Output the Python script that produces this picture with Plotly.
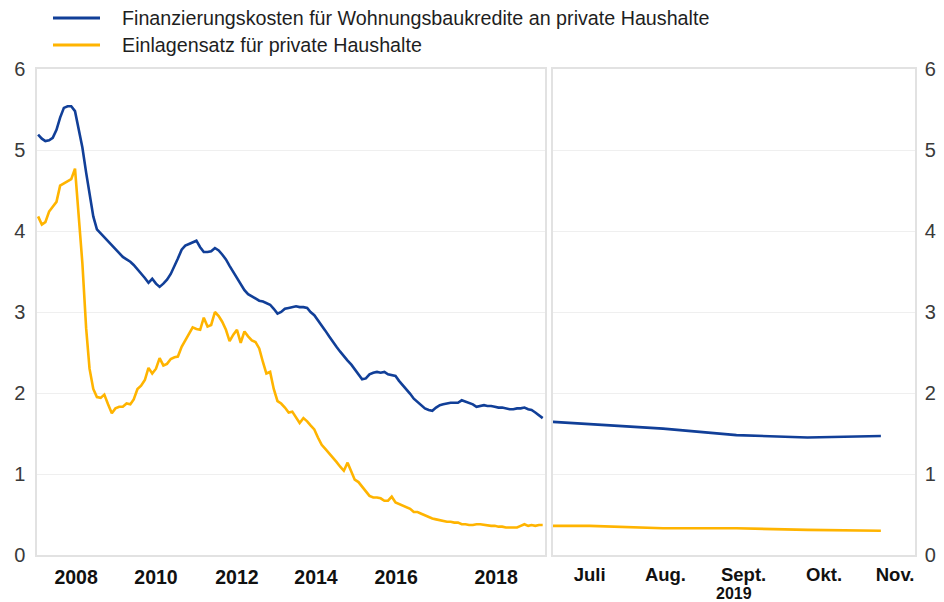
import plotly.graph_objects as go
import pandas as pd

# ---------------- data ----------------
# Left panel: monthly, Jan 2008 – Jun 2019
left_dates = pd.date_range("2008-01-01", periods=138, freq="MS")

cost_of_borrowing = [
    5.19, 5.14, 5.11, 5.12, 5.15, 5.25, 5.40, 5.52, 5.54, 5.54, 5.48, 5.26,   # 2008
    5.03, 4.72, 4.44, 4.18, 4.02, 3.97, 3.93, 3.88, 3.83, 3.77, 3.72, 3.68,   # 2009
    3.65, 3.62, 3.58, 3.53, 3.47, 3.42, 3.36, 3.41, 3.35, 3.31, 3.35, 3.40,   # 2010
    3.47, 3.56, 3.66, 3.77, 3.82, 3.84, 3.86, 3.88, 3.80, 3.74, 3.74, 3.75,   # 2011
    3.79, 3.76, 3.71, 3.65, 3.57, 3.49, 3.42, 3.35, 3.27, 3.22, 3.19, 3.16,   # 2012
    3.14, 3.13, 3.11, 3.09, 3.04, 2.98, 3.00, 3.04, 3.05, 3.06, 3.07, 3.06,   # 2013
    3.06, 3.05, 3.00, 2.96, 2.90, 2.84, 2.77, 2.70, 2.63, 2.57, 2.51, 2.45,   # 2014
    2.40, 2.35, 2.29, 2.22, 2.17, 2.18, 2.23, 2.25, 2.26, 2.25, 2.26, 2.23,   # 2015
    2.22, 2.21, 2.15, 2.10, 2.04, 1.99, 1.93, 1.89, 1.85, 1.81, 1.79, 1.78,   # 2016
    1.82, 1.85, 1.86, 1.87, 1.88, 1.88, 1.88, 1.91, 1.89, 1.88, 1.86, 1.83,   # 2017
    1.84, 1.85, 1.84, 1.84, 1.83, 1.82, 1.82, 1.81, 1.80, 1.80, 1.81, 1.81,   # 2018
    1.82, 1.80, 1.79, 1.76, 1.72, 1.69,                                       # 2019
]

deposit_rate = [
    4.18, 4.08, 4.11, 4.24, 4.30, 4.36, 4.56, 4.59, 4.62, 4.64, 4.77, 4.20,   # 2008
    3.60, 2.80, 2.30, 2.05, 1.95, 1.94, 1.98, 1.86, 1.75, 1.81, 1.83, 1.83,   # 2009
    1.87, 1.86, 1.92, 2.05, 2.09, 2.16, 2.31, 2.24, 2.30, 2.43, 2.34, 2.36,   # 2010
    2.42, 2.44, 2.45, 2.57, 2.65, 2.73, 2.81, 2.79, 2.78, 2.93, 2.82, 2.84,   # 2011
    3.00, 2.95, 2.88, 2.78, 2.64, 2.72, 2.78, 2.62, 2.76, 2.70, 2.65, 2.63,   # 2012
    2.55, 2.38, 2.24, 2.26, 2.05, 1.90, 1.87, 1.82, 1.76, 1.77, 1.70, 1.63,   # 2013
    1.69, 1.65, 1.60, 1.55, 1.45, 1.36, 1.31, 1.26, 1.21, 1.15, 1.09, 1.04,   # 2014
    1.14, 1.02, 0.93, 0.90, 0.84, 0.79, 0.73, 0.71, 0.71, 0.70, 0.67, 0.67,   # 2015
    0.72, 0.65, 0.63, 0.61, 0.59, 0.57, 0.53, 0.53, 0.51, 0.49, 0.46, 0.45,   # 2016
    0.44, 0.43, 0.42, 0.41, 0.41, 0.40, 0.40, 0.38, 0.38, 0.37, 0.37, 0.38,   # 2017
    0.38, 0.37, 0.37, 0.36, 0.36, 0.35, 0.35, 0.34, 0.34, 0.34, 0.34, 0.36,   # 2018
    0.38, 0.36, 0.37, 0.36, 0.37, 0.37,                                       # 2019
]

# Right panel: monthly, Jun – Nov 2019
right_dates = ["2019-06-01", "2019-07-01", "2019-08-01", "2019-09-01", "2019-10-01", "2019-11-01"]
cost_of_borrowing_recent = [1.67, 1.62, 1.56, 1.48, 1.45, 1.47]
deposit_rate_recent = [0.36, 0.36, 0.33, 0.33, 0.31, 0.30]

# Axis labels
year_label_pos = ["2008-11-10", "2010-09-01", "2012-07-01", "2014-04-15", "2016-02-06", "2018-05-12"]
year_labels = ["2008", "2010", "2012", "2014", "2016", "2018"]
year_tick_pos = [f"{y}-07-01" for y in range(2008, 2019)]

month_label_pos = ["2019-07-01", "2019-08-02", "2019-09-04", "2019-10-08", "2019-11-07"]
month_labels = ["Juli", "Aug.", "Sept.", "Okt.", "Nov."]
month_tick_pos = ["2019-07-01", "2019-08-01", "2019-09-01", "2019-10-01", "2019-11-01"]
year_caption = "2019"
year_caption_pos = "2019-08-31"

series_names = ["Finanzierungskosten für Wohnungsbaukredite an private Haushalte",
                "Einlagensatz für private Haushalte"]
y_ticks = [0, 1, 2, 3, 4, 5, 6]

# ---------------- style ----------------
BLUE = "#113f98"
YELLOW = "#ffb400"
FRAME = "#e2e2e2"
GRID = "#efefef"
FONT = "Liberation Sans, Arial, sans-serif"

# page offset of the plot div (default body margin of the html page)
OFF = 8
W, H = 944 - OFF, 602 - OFF
ML, MR, MT, MB = 37 - OFF, 29, 69 - OFF, 47
PW, PH = W - ML - MR, H - MT - MB

def px_x(p):
    """page pixel x -> paper coordinate"""
    return (p - OFF - ML) / PW

def px_y(p):
    """page pixel y -> paper coordinate"""
    return (H - MB - (p - OFF)) / PH

fig = go.Figure()

fig.add_trace(go.Scatter(x=left_dates, y=cost_of_borrowing, mode="lines", name=series_names[0],
                         line=dict(color=BLUE, width=2.6), xaxis="x", yaxis="y", showlegend=False))
fig.add_trace(go.Scatter(x=left_dates, y=deposit_rate, mode="lines", name=series_names[1],
                         line=dict(color=YELLOW, width=2.6), xaxis="x", yaxis="y", showlegend=False))
fig.add_trace(go.Scatter(x=right_dates, y=cost_of_borrowing_recent, mode="lines", name=series_names[0],
                         line=dict(color=BLUE, width=2.6), xaxis="x2", yaxis="y2", showlegend=False))
fig.add_trace(go.Scatter(x=right_dates, y=deposit_rate_recent, mode="lines", name=series_names[1],
                         line=dict(color=YELLOW, width=2.6), xaxis="x2", yaxis="y2", showlegend=False))

left_range = ["2007-12-23", "2019-06-20"]
right_range = ["2019-06-15 12:00", "2019-11-15 10:00"]
dom_left = [0, px_x(545)]
dom_right = [px_x(553), 1]

label_font = dict(family=FONT, size=19.5, color="#111111")
month_font = dict(family=FONT, size=18.5, color="#111111")
ytick_font = dict(family=FONT, size=20, color="#3a3a3a")

common_x = dict(automargin=False, zeroline=False, showgrid=False)

fig.update_layout(
    width=W, height=H,
    margin=dict(l=ML, r=MR, t=MT, b=MB, autoexpand=False),
    paper_bgcolor="white", plot_bgcolor="white",
    font=dict(family=FONT),
    xaxis=dict(domain=dom_left, anchor="y", type="date", range=left_range,
               tickmode="array", tickvals=year_label_pos, ticktext=[f"<b>{t}</b>" for t in year_labels],
               ticks="", showline=True, mirror=True, linecolor=FRAME, linewidth=1.5,
               tickfont=label_font, ticklabelstandoff=4, **common_x),
    xaxis3=dict(overlaying="x", anchor="y", type="date", range=left_range,
                tickmode="array", tickvals=year_tick_pos, ticks="outside", ticklen=5,
                tickcolor="#d8d8d8", tickwidth=1, showticklabels=False,
                showline=False, **common_x),
    xaxis2=dict(domain=dom_right, anchor="y2", type="date", range=right_range,
                tickmode="array", tickvals=month_label_pos,
                ticktext=[f"<b>{t}</b>" for t in month_labels],
                ticks="", showline=True, mirror=True, linecolor=FRAME, linewidth=1.5,
                tickfont=month_font, ticklabelstandoff=2, **common_x),
    xaxis4=dict(overlaying="x2", anchor="y2", type="date", range=right_range,
                tickmode="array", tickvals=month_tick_pos, ticks="outside", ticklen=5,
                tickcolor="#d8d8d8", tickwidth=1, showticklabels=False,
                showline=False, **common_x),
    yaxis=dict(anchor="x", range=[0, 6], tickmode="array", tickvals=y_ticks,
               showgrid=True, gridcolor=GRID, gridwidth=1.2, showline=True, mirror=True,
               linecolor=FRAME, linewidth=1.5, ticks="", tickfont=ytick_font,
               ticklabelstandoff=6, zeroline=False, automargin=False),
    yaxis2=dict(anchor="x2", side="right", range=[0, 6], tickmode="array", tickvals=y_ticks,
                showgrid=True, gridcolor=GRID, gridwidth=1.2, showline=True, mirror=True,
                linecolor=FRAME, linewidth=1.5, ticks="", tickfont=ytick_font,
                ticklabelstandoff=4, zeroline=False, automargin=False),
    showlegend=False,
)

# "2019" caption under the months of the right panel
fig.add_annotation(xref="x2", yref="paper", x=year_caption_pos, y=px_y(593),
                   xanchor="center", yanchor="middle", text=f"<b>{year_caption}</b>",
                   showarrow=False, font=dict(family=FONT, size=16, color="#111111"))

# Legend (drawn manually to match the reference layout)
legend_rows = [(18, BLUE, series_names[0]), (45, YELLOW, series_names[1])]
for py, col, txt in legend_rows:
    fig.add_shape(type="line", xref="paper", yref="paper",
                  x0=px_x(53), x1=px_x(100), y0=px_y(py), y1=px_y(py),
                  line=dict(color=col, width=3))
    fig.add_annotation(xref="paper", yref="paper", x=px_x(120), y=px_y(py),
                       xanchor="left", yanchor="middle", text=txt, showarrow=False,
                       font=dict(family=FONT, size=19.7, color="#1e1e1e"))

fig.write_html(
    "out.html",
    post_script="document.documentElement.style.overflow='hidden';",
)
